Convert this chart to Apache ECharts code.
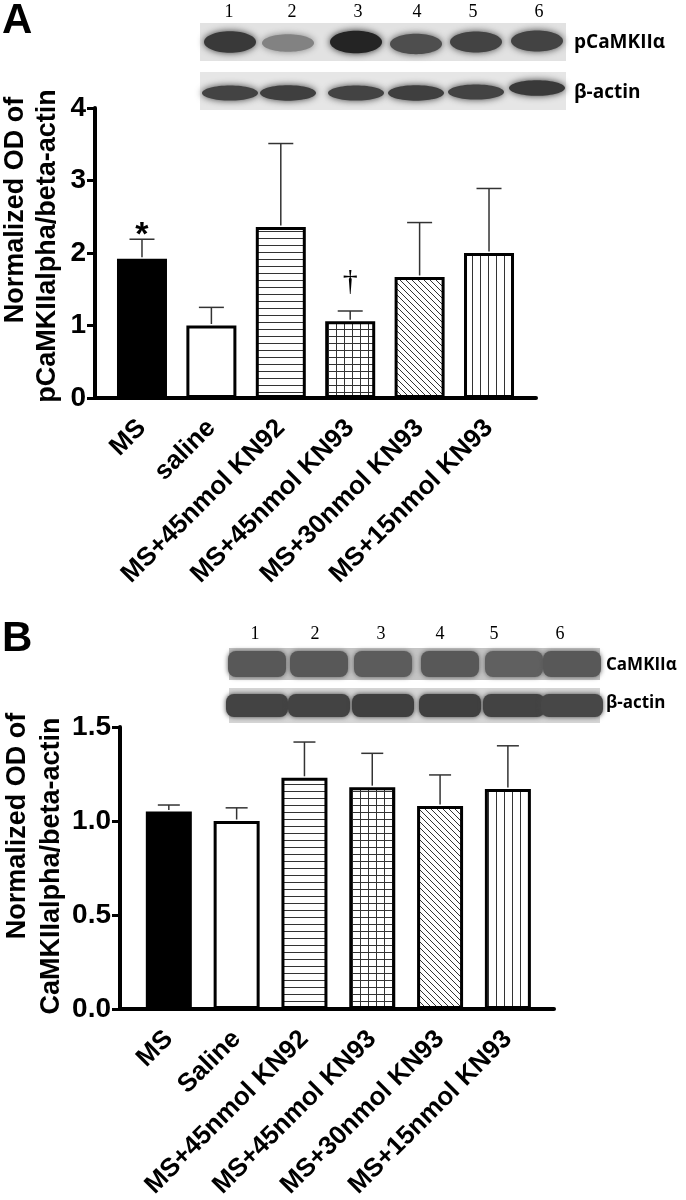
<!DOCTYPE html>
<html>
<head>
<meta charset="utf-8">
<script src="https://cdn.jsdelivr.net/npm/echarts@6/dist/echarts.min.js"></script>
<style>
  html, body { margin: 0; padding: 0; background: #fff; }
  #chart { width: 686px; height: 1200px; }
</style>
</head>
<body>
<div id="chart"></div>
<script>
// groups on the x axis
const groupsA = ['MS', 'saline', 'MS+45nmol KN92', 'MS+45nmol KN93', 'MS+30nmol KN93', 'MS+15nmol KN93'];
const groupsB = ['MS', 'Saline', 'MS+45nmol KN92', 'MS+45nmol KN93', 'MS+30nmol KN93', 'MS+15nmol KN93'];

// panel A: pCaMKIIalpha / beta-actin (mean, SEM)
const meanA = [1.92, 1.00, 2.36, 1.06, 1.67, 2.00];
const semA = [0.27, 0.25, 1.15, 0.14, 0.75, 0.89];
const markA = ['*', '', '', '†', '', ''];
const ticksA = [0, 1, 2, 3, 4];

// panel B: CaMKIIalpha / beta-actin (mean, SEM)
const meanB = [1.05, 1.00, 1.23, 1.18, 1.08, 1.17];
const semB = [0.035, 0.07, 0.19, 0.18, 0.165, 0.23];
const ticksB = [0, 0.5, 1.0, 1.5];

// western blot lanes and rough band densities (0..1)
const lanes = ['1', '2', '3', '4', '5', '6'];
const bandA_p = [0.85, 0.5, 0.95, 0.75, 0.8, 0.8];
const bandA_actin = [0.8, 0.82, 0.8, 0.82, 0.8, 0.85];
const bandB_total = [0.7, 0.7, 0.68, 0.7, 0.66, 0.7];
const bandB_actin = [0.8, 0.8, 0.82, 0.82, 0.8, 0.78];

const FONT = '"Liberation Sans", Arial, sans-serif';

// hatch fills
function hatch(kind) {
  const size = { h: [8, 7], v: [8, 8], grid: [8, 7], diag: [6, 6] }[kind];
  const c = document.createElement('canvas');
  c.width = size[0]; c.height = size[1];
  const g = c.getContext('2d');
  g.fillStyle = '#fff';
  g.fillRect(0, 0, c.width, c.height);
  g.strokeStyle = '#333';
  g.lineWidth = 1;
  g.beginPath();
  if (kind === 'h' || kind === 'grid') { g.moveTo(0, 0.5); g.lineTo(c.width, 0.5); }
  if (kind === 'v' || kind === 'grid') { g.moveTo(0.5, 0); g.lineTo(0.5, c.height); }
  if (kind === 'diag') {
    g.moveTo(0, 0); g.lineTo(6, 6);
    g.moveTo(-1, 5); g.lineTo(1, 7);
    g.moveTo(5, -1); g.lineTo(7, 1);
  }
  g.stroke();
  return { image: c, repeat: 'repeat' };
}
const fills = ['#000', '#fff', hatch('h'), hatch('grid'), hatch('diag'), hatch('v')];

function xAxisFor(idx, groups, min, max) {
  return {
    gridIndex: idx, type: 'value', min: min, max: max,
    axisLine: { show: true, onZero: false, lineStyle: { color: '#000', width: 4 } },
    axisTick: { show: false },
    splitLine: { show: false },
    axisLabel: {
      customValues: groups.map((g, i) => i),
      formatter: v => groups[Math.round(v)],
      rotate: 45, margin: 26,
      fontSize: 26, fontWeight: 'bold', fontFamily: FONT, color: '#000'
    }
  };
}

function yAxisFor(idx, ticks, fmt) {
  return {
    gridIndex: idx, type: 'value',
    min: ticks[0], max: ticks[ticks.length - 1], interval: ticks[1] - ticks[0],
    axisLine: { show: true, onZero: false, lineStyle: { color: '#000', width: 4 } },
    axisTick: { show: true, length: 8, lineStyle: { color: '#000', width: 3 } },
    splitLine: { show: false },
    axisLabel: {
      formatter: fmt, margin: 9,
      fontSize: 28, fontWeight: 'bold', fontFamily: FONT, color: '#000'
    }
  };
}

function barSeries(idx, mean, width) {
  return {
    type: 'bar', xAxisIndex: idx, yAxisIndex: idx, barWidth: width,
    data: mean.map((m, i) => ({ value: [i, m], itemStyle: { color: fills[i] } })),
    itemStyle: { borderColor: '#000', borderWidth: 3 },
    emphasis: { disabled: true },
    z: 2
  };
}

function errorSeries(idx, mean, sem, marks, capW) {
  return {
    type: 'custom', xAxisIndex: idx, yAxisIndex: idx, z: 3,
    data: mean.map((m, i) => [i, m, m + sem[i]]),
    renderItem(params, api) {
      const base = api.coord([api.value(0), api.value(1)]);
      const top = api.coord([api.value(0), api.value(2)]);
      const ln = { stroke: '#333', lineWidth: 1.5 };
      const kids = [
        { type: 'line', shape: { x1: base[0], y1: base[1] - 1.5, x2: top[0], y2: top[1] }, style: ln },
        { type: 'line', shape: { x1: top[0] - capW / 2, y1: top[1], x2: top[0] + capW / 2, y2: top[1] }, style: ln }
      ];
      const mk = marks ? marks[params.dataIndex] : '';
      if (mk === '*') {
        kids.push({ type: 'text', x: top[0], y: top[1] - 4,
          style: { text: mk, font: 'bold 34px ' + FONT, fill: '#000', align: 'center', verticalAlign: 'middle' } });
      } else if (mk) {
        kids.push({ type: 'text', x: top[0], y: top[1] - 29,
          style: { text: mk, font: '30px "Liberation Serif", serif', fill: '#000', align: 'center', verticalAlign: 'middle' } });
      }
      return { type: 'group', children: kids };
    }
  };
}

// blot drawing helpers
function gray(d) { const l = Math.round(235 - d * 210); return 'rgb(' + l + ',' + l + ',' + l + ')'; }
function blotOval(x, y, w, h, bg, centers, dens, rx, ryBase, dy) {
  const out = [{ type: 'rect', shape: { x: x, y: y, width: w, height: h }, style: { fill: bg }, z: 1 }];
  dens.forEach((d, i) => {
    out.push({ type: 'ellipse', z: 2,
      shape: { cx: centers[i], cy: y + h / 2 + (dy ? dy[i] : 0), rx: rx, ry: ryBase * (0.55 + 0.5 * d) },
      style: { fill: gray(d), shadowBlur: 7, shadowColor: gray(d) } });
  });
  return out;
}
function blotSlab(x, y, w, h, bg, centers, dens, bw, pad) {
  const out = [{ type: 'rect', shape: { x: x, y: y, width: w, height: h }, style: { fill: bg }, z: 1 }];
  dens.forEach((d, i) => {
    out.push({ type: 'rect', z: 2,
      shape: { x: centers[i] - bw / 2, y: y + pad, width: bw, height: h - 2 * pad, r: 8 },
      style: { fill: gray(d), shadowBlur: 5, shadowColor: gray(d) } });
  });
  return out;
}

const laneXA = [230, 288, 356, 416, 476, 537];
const laneNumXA = [229, 292, 358, 417, 473, 539];
const laneXB = [257, 319, 383, 450, 514, 572];
const laneNumXB = [255, 315, 381, 440, 494, 560];

const graphics = [].concat(
  blotOval(200, 23, 366, 38, '#e2e2e2', laneXA, bandA_p, 26, 11, [0, 1, 0, 2, 0, -1]),
  blotOval(200, 72, 366, 38, '#e6e6e6', laneXA, bandA_actin, 28, 8, [2, 2, 2, 2, 1, -3]),
  blotSlab(229, 648, 371, 32, '#c4c4c4', laneXB, bandB_total, 58, 3),
  blotSlab(229, 688, 371, 35, '#d6d6d6', laneXB, bandB_actin, 62, 6),
  lanes.map((t, i) => ({ type: 'text', x: laneNumXA[i], y: 12,
    style: { text: t, font: '18px "Liberation Serif", serif', fill: '#000', align: 'center', verticalAlign: 'middle' } })),
  lanes.map((t, i) => ({ type: 'text', x: laneNumXB[i], y: 634,
    style: { text: t, font: '18px "Liberation Serif", serif', fill: '#000', align: 'center', verticalAlign: 'middle' } })),
  [
    { type: 'text', x: 574, y: 43, style: { text: 'pCaMKIIα', font: 'bold 19px "Open Sans", sans-serif', fill: '#000', verticalAlign: 'middle' } },
    { type: 'text', x: 574, y: 93, style: { text: 'β-actin', font: 'bold 19px "Open Sans", sans-serif', fill: '#000', verticalAlign: 'middle' } },
    { type: 'text', x: 606, y: 665, style: { text: 'CaMKIIα', font: 'bold 17px "Open Sans", sans-serif', fill: '#000', verticalAlign: 'middle' } },
    { type: 'text', x: 606, y: 703, style: { text: 'β-actin', font: 'bold 17px "Open Sans", sans-serif', fill: '#000', verticalAlign: 'middle' } },
    { type: 'text', x: 2, y: 0, style: { text: 'A', font: 'bold 42px ' + FONT, fill: '#000' } },
    { type: 'text', x: 2, y: 618, style: { text: 'B', font: 'bold 42px ' + FONT, fill: '#000' } },
    { type: 'text', x: 16, y: 210, rotation: Math.PI / 2,
      style: { text: 'Normalized OD of', font: 'bold 27px ' + FONT, fill: '#000', align: 'center', verticalAlign: 'middle' } },
    { type: 'text', x: 48, y: 246, rotation: Math.PI / 2,
      style: { text: 'pCaMKIIalpha/beta-actin', font: 'bold 27px ' + FONT, fill: '#000', align: 'center', verticalAlign: 'middle' } },
    { type: 'text', x: 18, y: 826, rotation: Math.PI / 2,
      style: { text: 'Normalized OD of', font: 'bold 27px ' + FONT, fill: '#000', align: 'center', verticalAlign: 'middle' } },
    { type: 'text', x: 52, y: 866, rotation: Math.PI / 2,
      style: { text: 'CaMKIIalpha/beta-actin', font: 'bold 27px ' + FONT, fill: '#000', align: 'center', verticalAlign: 'middle' } }
  ]
);

const chart = echarts.init(document.getElementById('chart'), null, { renderer: 'canvas' });
chart.setOption({
  backgroundColor: '#fff',
  animation: false,
  grid: [
    { left: 95, top: 108, width: 441, height: 290, outerBoundsMode: 'none' },
    { left: 120, top: 727, width: 434, height: 282, outerBoundsMode: 'none' }
  ],
  xAxis: [
    xAxisFor(0, groupsA, -0.677, 5.677),
    xAxisFor(1, groupsB, -0.72, 5.68)
  ],
  yAxis: [
    yAxisFor(0, ticksA, v => String(v)),
    yAxisFor(1, ticksB, v => v.toFixed(1))
  ],
  series: [
    barSeries(0, meanA, 50),
    errorSeries(0, meanA, semA, markA, 25),
    barSeries(1, meanB, 46),
    errorSeries(1, meanB, semB, null, 22)
  ],
  graphic: graphics
});
</script>
</body>
</html>
